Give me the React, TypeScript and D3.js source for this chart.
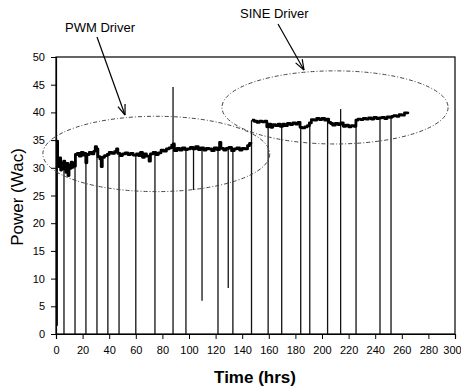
import React, { useEffect, useRef } from 'react';
import * as d3 from 'd3';

// power trace while running the PWM driver [hours, watts]
const pwmTrace: [number, number][] = [
  [0.5, 34.8], [1.2, 31.5], [2, 30.2], [2.8, 31.8], [3.5, 29.6], [4.2, 30.9], [5, 29.8], [5.8, 31.2],
  [6.6, 30.4], [7.4, 29.2], [8.2, 30.8], [9, 28.6], [9.8, 30.5], [10.6, 29.9], [11.4, 31.0], [12.2, 30.1],
  [13, 30.9], [13.8, 30.3], [14.6, 32.4], [16, 32.6], [17.5, 32.1], [19, 32.8], [20.5, 32.3], [21.8, 32.6],
  [22.4, 30.9], [23.2, 32.4], [25, 32.8], [27, 32.5], [28.5, 33.0], [29.5, 33.8], [30.5, 33.4], [31.5, 32.0],
  [33, 31.6], [34, 30.2], [34.8, 31.9], [36.5, 32.2], [38.5, 32.4], [40, 32.8], [42, 32.6], [44, 32.9],
  [45.5, 33.4], [46.5, 32.6], [48, 32.2], [50, 32.5], [52, 32.7], [54, 32.4], [56, 32.6], [58, 32.3],
  [60.5, 32.5], [62, 32.2], [63.5, 32.8], [65, 31.9], [66.5, 32.5], [68, 32.1], [70, 31.2], [71, 32.5],
  [73, 32.8], [75, 32.4], [77, 32.7], [79, 33.2], [81, 33.0], [83, 33.4], [85, 33.6], [87, 34.1],
  [88, 34.3], [89, 33.1], [91, 33.5], [93, 33.2], [95, 33.6], [97, 33.3], [99, 33.4], [101, 33.7],
  [103, 33.4], [105, 33.8], [107, 33.3], [109, 33.6], [111, 33.2], [113, 33.5], [115, 33.4], [117, 33.1],
  [119, 33.6], [121, 33.3], [123, 34.6], [124, 33.5], [126, 33.2], [128, 33.5], [130, 33.7], [132, 33.1],
  [134, 33.4], [136, 33.6], [138, 33.2], [140, 33.5], [142, 33.4], [144, 34.0], [145.5, 34.4], [146.5, 34.6],
];

// power trace while running the SINE driver [hours, watts]
const sineTrace: [number, number][] = [
  [147.3, 38.6], [149, 38.4], [151, 38.2], [153, 38.4], [155, 38.3], [157, 38.4], [158.5, 37.4], [160, 37.9],
  [161.5, 37.3], [163, 37.8], [165, 37.6], [167, 37.9], [168.5, 37.5], [170.5, 37.9], [172, 37.6], [174, 38.0],
  [176, 37.8], [178, 38.1], [180, 37.9], [182, 38.2], [183.5, 37.3], [185, 37.2], [187, 37.4], [189, 37.6],
  [190.5, 38.1], [192, 38.7], [194, 38.6], [196, 38.9], [198, 38.7], [200, 38.9], [202, 38.6], [203.5, 38.8],
  [205, 38.2], [206.5, 38.0], [208, 37.7], [210, 38.0], [212, 37.8], [214, 38.1], [216, 37.5], [218, 37.7],
  [220, 37.4], [222, 37.6], [224, 37.5], [225.5, 38.6], [227, 38.8], [229, 38.7], [231, 38.9], [233, 38.8],
  [235, 39.0], [237, 38.8], [239, 39.1], [241, 38.9], [243, 39.0], [245, 39.1], [247, 38.9], [249, 39.2],
  [251, 39.1], [252.5, 39.3], [254, 39.4], [256, 39.3], [258, 39.6], [260, 39.5], [262, 39.9], [264.5, 40.1],
];

// power interruptions [hours, lowest watts]
const outages: [number, number][] = [
  [1, 1.5], [6, 0], [14.3, 0], [22.5, 0], [30.8, 0], [39, 0], [47.4, 0], [60, 0], [74.4, 0], [88, 0],
  [97.7, 0], [103.4, 26], [109.8, 6], [121.8, 0], [129.5, 8.3], [133, 0], [147, 0], [159.5, 0], [169.7, 0],
  [184, 0], [190.8, 0], [204.2, 0], [214, 0], [225.6, 0], [243.6, 0], [251.9, 0],
];

// upward spikes [hours, peak watts]
const spikes: [number, number][] = [[88, 44.6], [214, 40.6]];

// highlighted regions [center hours, center watts, half-width hours, half-height watts]
const regions: [number, number, number, number][] = [
  [75.4, 32.5, 85.3, 6.8],
  [209.8, 40.9, 85, 6.6],
];

const yTicks = d3.range(0, 51, 5);
const xTicks = d3.range(0, 301, 20);

const FONT = '"Liberation Sans", Arial, sans-serif';

const App: React.FC = () => {
  const svgRef = useRef<SVGSVGElement>(null);
  const width = 461;
  const height = 387;

  useEffect(() => {
    if (!svgRef.current) return;
    const svg = d3.select(svgRef.current);
    svg.selectAll('*').remove();

    const x = d3.scaleLinear().domain([0, 300]).range([56, 455]);
    const y = d3.scaleLinear().domain([0, 50]).range([334, 57]);

    // frame
    svg.append('rect')
      .attr('x', 56).attr('y', 57)
      .attr('width', 455 - 56).attr('height', 334 - 57)
      .attr('fill', 'none').attr('stroke', '#000').attr('stroke-width', 1.2);

    // axes
    const yAxis = svg.append('g')
      .attr('transform', 'translate(56,0)')
      .call(d3.axisLeft(y).tickValues(yTicks).tickSize(5).tickPadding(6));
    const xAxis = svg.append('g')
      .attr('transform', 'translate(0,334)')
      .call(d3.axisBottom(x).tickValues(xTicks).tickSize(5).tickPadding(7));
    [yAxis, xAxis].forEach(a => {
      a.selectAll('text').style('font-family', FONT).style('font-size', '11px').attr('fill', '#000');
      a.selectAll('line').attr('stroke', '#000');
      a.select('.domain').attr('stroke', '#000').attr('stroke-width', 1.2);
    });
    // keep the last x label inside the picture
    xAxis.selectAll<SVGTextElement, number>('text')
      .filter(d => d === 300)
      .attr('dx', -3);

    const allTrace = [...pwmTrace, ...sineTrace];
    const nearest = (h: number) => allTrace.reduce((p, c) => (Math.abs(c[0] - h) < Math.abs(p[0] - h) ? c : p));

    // outages
    svg.append('g').selectAll('line')
      .data(outages)
      .enter().append('line')
      .attr('x1', d => x(d[0])).attr('x2', d => x(d[0]))
      .attr('y1', d => y(d[1])).attr('y2', d => y(nearest(d[0])[1]))
      .attr('stroke', '#111').attr('stroke-width', 1.3);

    svg.append('g').selectAll('line')
      .data(spikes)
      .enter().append('line')
      .attr('x1', d => x(d[0])).attr('x2', d => x(d[0]))
      .attr('y1', d => y(nearest(d[0])[1])).attr('y2', d => y(d[1]))
      .attr('stroke', '#111').attr('stroke-width', 1.3);

    const line = d3.line<[number, number]>()
      .x(d => x(d[0]))
      .y(d => y(d[1]))
      .curve(d3.curveStepAfter);

    [pwmTrace, sineTrace].forEach(tr => {
      svg.append('path')
        .datum(tr)
        .attr('fill', 'none')
        .attr('stroke', '#000')
        .attr('stroke-width', 2.8)
        .attr('stroke-linejoin', 'round')
        .attr('d', line);
    });

    // dashed ellipses
    svg.append('g').selectAll('ellipse')
      .data(regions)
      .enter().append('ellipse')
      .attr('cx', d => x(d[0]))
      .attr('cy', d => y(d[1]))
      .attr('rx', d => x(d[2]) - x(0))
      .attr('ry', d => y(0) - y(d[3]))
      .attr('fill', 'none')
      .attr('stroke', '#444')
      .attr('stroke-width', 1)
      .attr('stroke-dasharray', '4,2,1,2');

    // annotations with arrows
    const notes = [
      { label: 'PWM Driver', tx: 65, ty: 32, from: [97, 37], to: [125, 115] },
      { label: 'SINE Driver', tx: 240, ty: 18, from: [278, 24], to: [304, 70] },
    ];
    notes.forEach(n => {
      svg.append('text')
        .attr('x', n.tx).attr('y', n.ty)
        .style('font-family', FONT).style('font-size', '13px')
        .text(n.label);
      svg.append('line')
        .attr('x1', n.from[0]).attr('y1', n.from[1])
        .attr('x2', n.to[0]).attr('y2', n.to[1])
        .attr('stroke', '#000').attr('stroke-width', 1.2);
      const ang = Math.atan2(n.to[1] - n.from[1], n.to[0] - n.from[0]);
      [-0.35, 0.35].forEach(da => {
        svg.append('line')
          .attr('x1', n.to[0]).attr('y1', n.to[1])
          .attr('x2', n.to[0] - 11 * Math.cos(ang + da))
          .attr('y2', n.to[1] - 11 * Math.sin(ang + da))
          .attr('stroke', '#000').attr('stroke-width', 1.2);
      });
    });

    // axis titles
    svg.append('text')
      .attr('transform', 'translate(23,197) rotate(-90)')
      .attr('text-anchor', 'middle')
      .style('font-family', FONT).style('font-size', '17px')
      .text('Power (Wac)');

    svg.append('text')
      .attr('x', 255).attr('y', 383)
      .attr('text-anchor', 'middle')
      .style('font-family', FONT).style('font-size', '17px').style('font-weight', 'bold')
      .text('Time (hrs)');
  }, []);

  return (
    <svg
      ref={svgRef}
      width={width}
      height={height}
      style={{ position: 'absolute', left: 0, top: 0, background: '#fff' }}
    />
  );
};

export default App;
